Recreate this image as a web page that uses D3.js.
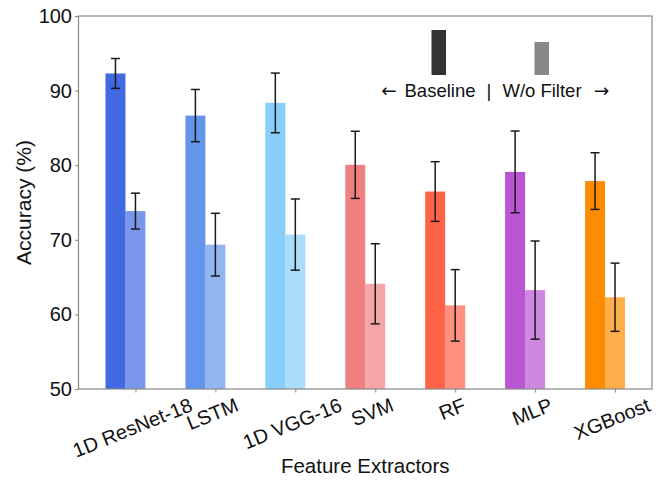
<!DOCTYPE html>
<html>
<head>
<meta charset="utf-8">
<script src="https://cdn.jsdelivr.net/npm/d3@7"></script>
<style>
  body { margin: 0; background: #fff; }
  text { font-family: "Liberation Sans", Arial, sans-serif; }
</style>
</head>
<body>
<div id="chart"></div>
<script>
// data
var categories = ["1D ResNet-18", "LSTM", "1D VGG-16", "SVM", "RF", "MLP", "XGBoost"];
var baseline = [92.3, 86.65, 88.35, 80.05, 76.47, 79.1, 77.87];
var baselineErr = [2.0, 3.5, 4.0, 4.5, 4.0, 5.48, 3.8];
var noFilter = [73.85, 69.35, 70.7, 64.1, 61.21, 63.26, 62.3];
var noFilterErr = [2.4, 4.2, 4.77, 5.37, 4.79, 6.58, 4.57];
var colors = ["#4169E1", "#6495ED", "#87CEFA", "#F08080", "#FF6347", "#BA55D3", "#FF8C00"];
var yTicks = [50, 60, 70, 80, 90, 100];

var W = 667, H = 488;
var margin = {left: 78.5, top: 16, right: 15, bottom: 99};
var pw = W - margin.left - margin.right, ph = H - margin.top - margin.bottom;
var barW = 0.25;

var svg = d3.select("#chart").append("svg")
  .attr("width", W).attr("height", H);
var g = svg.append("g")
  .attr("transform", "translate(" + margin.left + "," + margin.top + ")");

var x = d3.scaleLinear().domain([-0.7125, 6.4625]).range([0, pw]);
var y = d3.scaleLinear().domain([50, 100]).range([ph, 0]);

// bars + error bars
function drawSeries(vals, errs, offset, alpha) {
  var grp = g.append("g");
  grp.selectAll("rect").data(vals).enter().append("rect")
    .attr("x", function(d, i) { return x(i + offset - barW / 2); })
    .attr("width", x(barW) - x(0))
    .attr("y", function(d) { return y(d); })
    .attr("height", function(d) { return ph - y(d); })
    .attr("fill", function(d, i) { return colors[i]; })
    .attr("fill-opacity", alpha);
  var eb = grp.selectAll("g.err").data(vals).enter().append("g")
    .attr("stroke", "#1a1a1a").attr("stroke-width", 1.5);
  eb.append("line")
    .attr("x1", function(d, i) { return x(i + offset); })
    .attr("x2", function(d, i) { return x(i + offset); })
    .attr("y1", function(d, i) { return y(d - errs[i]); })
    .attr("y2", function(d, i) { return y(d + errs[i]); });
  [1, -1].forEach(function(s) {
    eb.append("line")
      .attr("x1", function(d, i) { return x(i + offset) - 4.5; })
      .attr("x2", function(d, i) { return x(i + offset) + 4.5; })
      .attr("y1", function(d, i) { return y(d + s * errs[i]); })
      .attr("y2", function(d, i) { return y(d + s * errs[i]); });
  });
}
drawSeries(baseline, baselineErr, -0.25, 1);
drawSeries(noFilter, noFilterErr, 0, 0.7);

// frame
g.append("rect").attr("width", pw).attr("height", ph)
  .attr("fill", "none").attr("stroke", "#888").attr("stroke-width", 1.2);

// y axis
var yAxis = g.append("g").call(d3.axisLeft(y).tickValues(yTicks).tickSize(3.5).tickPadding(3));
yAxis.select(".domain").remove();
yAxis.selectAll("line").attr("stroke", "#888");
yAxis.selectAll("text").attr("font-size", "20px").attr("fill", "#111");

// x axis
var xAxis = g.append("g").attr("transform", "translate(0," + ph + ")")
  .call(d3.axisBottom(x).tickValues(d3.range(categories.length)).tickSize(3.5).tickFormat(""));
xAxis.select(".domain").remove();
xAxis.selectAll("line").attr("stroke", "#888");

var rot = 22, fs = 20;
var ang = rot * Math.PI / 180;
categories.forEach(function(c, i) {
  var t = g.append("text").text(c)
    .attr("font-size", fs + "px").attr("fill", "#111")
    .attr("text-anchor", "middle").attr("dominant-baseline", "central");
  var w = t.node().getComputedTextLength();
  var bh = w * Math.sin(ang) + fs * 0.85 * Math.cos(ang);
  t.attr("transform", "translate(" + (x(i) - 3) + "," + (ph + 7 + bh / 2) + ") rotate(" + (-rot) + ")");
});

// axis labels
svg.append("text").text("Feature Extractors")
  .attr("x", margin.left + pw / 2).attr("y", 473)
  .attr("text-anchor", "middle").attr("font-size", "20.5px").attr("fill", "#111");
svg.append("text").text("Accuracy (%)")
  .attr("transform", "translate(31," + (margin.top + ph / 2) + ") rotate(-90)")
  .attr("text-anchor", "middle").attr("font-size", "21px").attr("fill", "#111");

// legend
svg.append("rect").attr("x", 431.5).attr("y", 30).attr("width", 14.5).attr("height", 45).attr("fill", "#333");
svg.append("rect").attr("x", 534.5).attr("y", 42).attr("width", 14.5).attr("height", 33).attr("fill", "#888");
var legendBits = [
  {t: "\u2190", cx: 389, font: "DejaVu Sans"},
  {t: "Baseline", cx: 440, font: null},
  {t: "|", cx: 489, font: null},
  {t: "W/o Filter", cx: 542, font: null},
  {t: "\u2192", cx: 601.5, font: "DejaVu Sans"}
];
legendBits.forEach(function(b) {
  var t = svg.append("text").text(b.t)
    .attr("x", b.cx).attr("y", 97).attr("text-anchor", "middle")
    .attr("font-size", "18.5px").attr("fill", "#111");
  if (b.font) t.style("font-family", b.font);
});
</script>
</body>
</html>
